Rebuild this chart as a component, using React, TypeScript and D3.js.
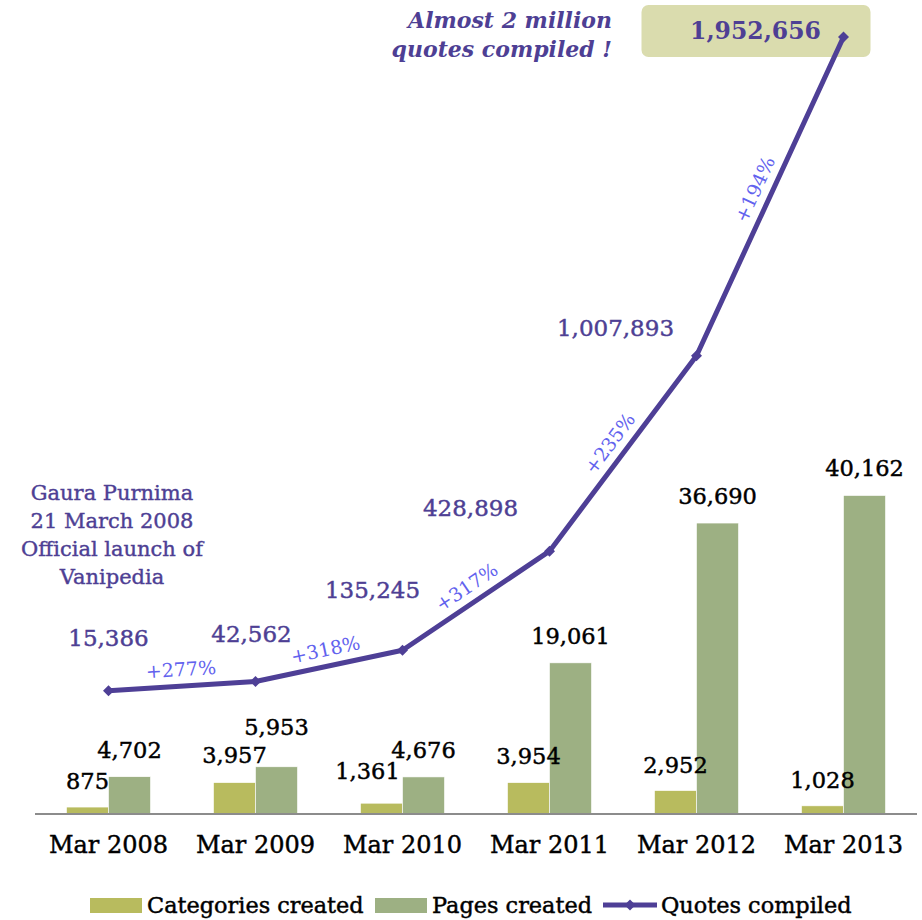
import React from "react";
import * as d3 from "d3";

const categories = ["Mar 2008", "Mar 2009", "Mar 2010", "Mar 2011", "Mar 2012", "Mar 2013"];
const categoriesCreated = [875, 3957, 1361, 3954, 2952, 1028];
const pagesCreated = [4702, 5953, 4676, 19061, 36690, 40162];
const quotesCompiled = [15386, 42562, 135245, 428898, 1007893, 1952656];
const growthLabels = ["+277%", "+318%", "+317%", "+235%", "+194%"];
const seriesNames = ["Categories created", "Pages created", "Quotes compiled"];
const annotationLines = ["Gaura Purnima", "21 March 2008", "Official launch of", "Vanipedia"];
const headlineLines = ["Almost 2 million", "quotes compiled !"];

// layout nudges for labels (pixels)
const quoteLabelOffsets: [number, number][] = [[0, -53], [-4, -48], [-30, -60], [-79, -43], [-81, -28], [-88, -6]];
const catLabelNudge: [number, number][] = [[0, 1], [0, -1], [-14, -5], [0, 0], [0, 1], [0, 1]];
const pageLabelNudge: [number, number][] = [[0, 0], [0, -13], [0, 0], [0, 0], [0, 0], [0, -1]];

const W = 922, H = 920;
const FONT = "'DejaVu Serif', serif";
const C_CAT = "#B8BB5E";
const C_PAGE = "#9DB083";
const C_LINE = "#4E3F96";
const C_PCT = "#6262EE";
const C_TXT = "#4E3F94";

export default function App() {
  const fmt = d3.format(",");
  const plotTop = 21, plotBottom = 814, plotLeft = 35, plotRight = 917;
  const x = d3.scaleBand<string>().domain(categories).range([plotLeft, plotRight]).padding(0);
  const barPair = 84;
  const xs = d3.scaleBand<string>().domain(["cat", "page"]).range([0, barPair]).padding(0);
  const yL = d3.scaleLinear().domain([0, 100000]).range([plotBottom, plotTop]);
  const yR = d3.scaleLinear().domain([-350000, 2000000]).range([plotBottom, plotTop]);
  const cx = (c: string) => (x(c) as number) + x.bandwidth() / 2;
  const pairStart = (c: string) => cx(c) - barPair / 2;

  const pts: [number, number][] = categories.map((c, i) => [cx(c), yR(quotesCompiled[i])]);
  const line = d3.line<[number, number]>().x(d => d[0]).y(d => d[1])(pts) as string;

  const diamond = (px: number, py: number, r = 5.5) =>
    `M${px},${py - r}L${px + r},${py}L${px},${py + r}L${px - r},${py}Z`;

  const lastIdx = quotesCompiled.length - 1;
  const boxCx = pts[lastIdx][0] + quoteLabelOffsets[lastIdx][0];
  const boxCy = pts[lastIdx][1] + quoteLabelOffsets[lastIdx][1];

  const legendY = 905;
  const heavy = (color: string, w = 0.45) => ({ stroke: color, strokeWidth: w, fill: color });

  return (
    <svg width={W} height={H} style={{ position: "absolute", left: 0, top: 0, display: "block", background: "#fff" }} fontFamily={FONT}>
      {/* headline box */}
      <rect x={boxCx - 114} y={boxCy - 26} width={229} height={52} rx={7} fill="#DADCAE" />
      <text x={boxCx} y={boxCy} textAnchor="middle" dominantBaseline="central" fontSize={23.5} fontWeight="bold" fill={C_TXT}>
        {fmt(quotesCompiled[lastIdx])}
      </text>
      {headlineLines.map((t, i) => (
        <text key={t} x={612} y={20 + i * 29} textAnchor="end" dominantBaseline="central" fontSize={22} fontWeight="bold" fontStyle="italic" fill={C_TXT}>
          {t}
        </text>
      ))}

      {/* bars */}
      {categories.map((c, i) => (
        <g key={c}>
          <rect x={pairStart(c) + (xs("cat") as number)} y={yL(categoriesCreated[i])} width={xs.bandwidth()} height={plotBottom - yL(categoriesCreated[i])} fill={C_CAT} stroke="#fff" strokeWidth={0.6} />
          <rect x={pairStart(c) + (xs("page") as number)} y={yL(pagesCreated[i])} width={xs.bandwidth()} height={plotBottom - yL(pagesCreated[i])} fill={C_PAGE} stroke="#fff" strokeWidth={0.6} />
        </g>
      ))}

      {/* axis */}
      <line x1={plotLeft} x2={plotRight} y1={plotBottom} y2={plotBottom} stroke="#8C8C8C" strokeWidth={2} />
      {categories.map(c => (
        <text key={c} x={cx(c)} y={845} textAnchor="middle" dominantBaseline="central" fontSize={24} {...heavy("#000")}>{c}</text>
      ))}

      {/* bar labels */}
      {categories.map((c, i) => (
        <g key={"bl" + c}>
          <text x={pairStart(c) + (xs("cat") as number) + xs.bandwidth() / 2 + catLabelNudge[i][0]} y={yL(categoriesCreated[i]) - 27 + catLabelNudge[i][1]} textAnchor="middle" dominantBaseline="central" fontSize={22.5} {...heavy("#000")}>
            {fmt(categoriesCreated[i])}
          </text>
          <text x={pairStart(c) + (xs("page") as number) + xs.bandwidth() / 2 + pageLabelNudge[i][0]} y={yL(pagesCreated[i]) - 27 + pageLabelNudge[i][1]} textAnchor="middle" dominantBaseline="central" fontSize={22.5} {...heavy("#000")}>
            {fmt(pagesCreated[i])}
          </text>
        </g>
      ))}

      {/* quotes line */}
      <path d={line} fill="none" stroke={C_LINE} strokeWidth={5} strokeLinejoin="round" />
      {pts.map((p, i) => (
        <path key={"m" + i} d={diamond(p[0], p[1])} fill={C_LINE} />
      ))}
      {pts.slice(0, lastIdx).map((p, i) => (
        <text key={"ql" + i} x={p[0] + quoteLabelOffsets[i][0]} y={p[1] + quoteLabelOffsets[i][1]} textAnchor="middle" dominantBaseline="central" fontSize={23} {...heavy(C_TXT)}>
          {fmt(quotesCompiled[i])}
        </text>
      ))}

      {/* growth labels */}
      {growthLabels.map((g, i) => {
        const [x0, y0] = pts[i];
        const [x1, y1] = pts[i + 1];
        const dx = x1 - x0, dy = y1 - y0;
        const len = Math.hypot(dx, dy);
        const nx = dy / len, ny = -dx / len;
        const mx = (x0 + x1) / 2 + nx * 17;
        const my = (y0 + y1) / 2 + ny * 17;
        const ang = (Math.atan2(dy, dx) * 180) / Math.PI;
        return (
          <text key={g + i} x={mx} y={my} textAnchor="middle" dominantBaseline="central" fontSize={19} fill={C_PCT} transform={`rotate(${ang},${mx},${my})`}>
            {g}
          </text>
        );
      })}

      {/* launch annotation */}
      {annotationLines.map((t, i) => (
        <text key={t} x={112} y={493 + i * 28} textAnchor="middle" dominantBaseline="central" fontSize={21} {...heavy(C_TXT, 0.4)}>{t}</text>
      ))}

      {/* legend */}
      <rect x={90} y={legendY - 7} width={52} height={15} fill={C_CAT} />
      <text x={147} y={legendY} dominantBaseline="central" fontSize={22.4} {...heavy("#000")}>{seriesNames[0]}</text>
      <rect x={375} y={legendY - 7} width={52} height={15} fill={C_PAGE} />
      <text x={432} y={legendY} dominantBaseline="central" fontSize={22.4} {...heavy("#000")}>{seriesNames[1]}</text>
      <line x1={603} x2={657} y1={legendY} y2={legendY} stroke={C_LINE} strokeWidth={5} />
      <path d={diamond(630, legendY)} fill={C_LINE} />
      <text x={661} y={legendY} dominantBaseline="central" fontSize={22.4} {...heavy("#000")}>{seriesNames[2]}</text>
    </svg>
  );
}
